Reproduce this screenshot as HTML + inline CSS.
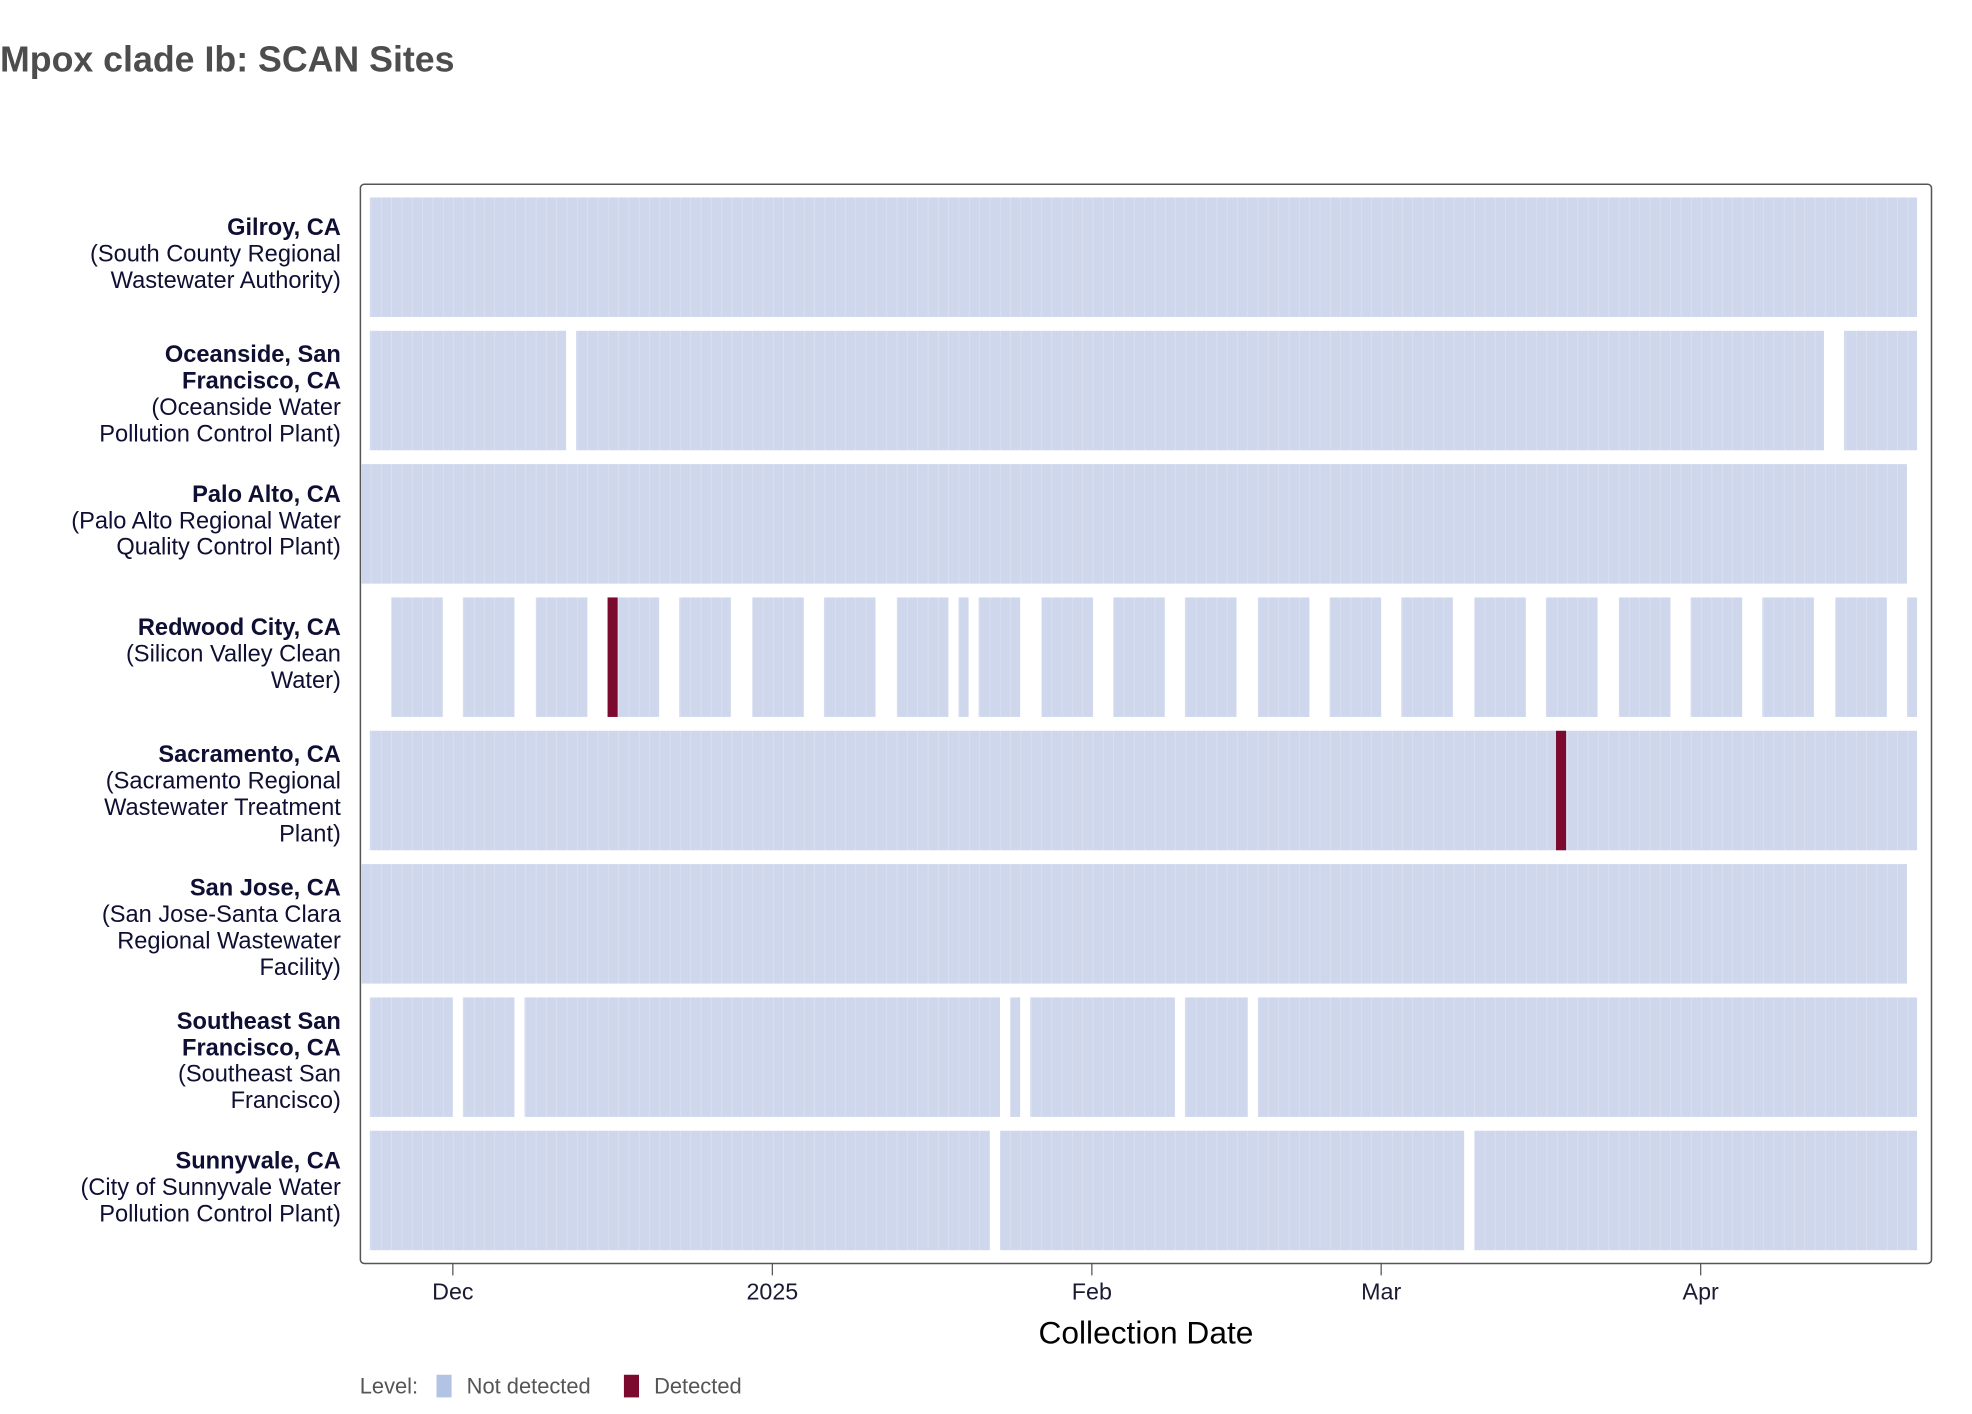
<!DOCTYPE html>
<html><head><meta charset="utf-8"><style>html,body{margin:0;padding:0;background:#fff}svg{display:block}</style></head>
<body>
<svg width="1972" height="1414" viewBox="0 0 1567.7 1124.2" preserveAspectRatio="none" xmlns="http://www.w3.org/2000/svg" font-family="Liberation Sans, Arial, sans-serif">
<defs>
<pattern id="p" x="287" y="0" width="8.2" height="10" patternUnits="userSpaceOnUse">
<rect width="8.2" height="10" fill="#cfd7ec"/><rect x="7.7" width="0.5" height="10" fill="#dfe4f3"/>
</pattern>
</defs>
<text x="0" y="57" font-size="28.4" font-weight="bold" fill="#4d4d4d">Mpox clade Ib: SCAN Sites</text>
<rect x="286.5" y="146.5" width="1249" height="858" rx="3" fill="#fff" stroke="#555" stroke-width="1.2"/>
<g fill="url(#p)">
<rect x="294" y="157" width="1230" height="95"/>
<rect x="294" y="263" width="156" height="95"/><rect x="458" y="263" width="992" height="95"/><rect x="1466" y="263" width="58" height="95"/>
<rect x="287" y="369" width="1229" height="95"/>
<rect x="311" y="475" width="41" height="95"/><rect x="368" y="475" width="41" height="95"/><rect x="426" y="475" width="41" height="95"/><rect x="483" y="475" width="41" height="95"/><rect x="540" y="475" width="41" height="95"/><rect x="598" y="475" width="41" height="95"/><rect x="655" y="475" width="41" height="95"/><rect x="713" y="475" width="41" height="95"/><rect x="762" y="475" width="8" height="95"/><rect x="778" y="475" width="33" height="95"/><rect x="828" y="475" width="41" height="95"/><rect x="885" y="475" width="41" height="95"/><rect x="942" y="475" width="41" height="95"/><rect x="1000" y="475" width="41" height="95"/><rect x="1057" y="475" width="41" height="95"/><rect x="1114" y="475" width="41" height="95"/><rect x="1172" y="475" width="41" height="95"/><rect x="1229" y="475" width="41" height="95"/><rect x="1287" y="475" width="41" height="95"/><rect x="1344" y="475" width="41" height="95"/><rect x="1401" y="475" width="41" height="95"/><rect x="1459" y="475" width="41" height="95"/><rect x="1516" y="475" width="8" height="95"/>
<rect x="294" y="581" width="1230" height="95"/>
<rect x="287" y="687" width="1229" height="95"/>
<rect x="294" y="793" width="66" height="95"/><rect x="368" y="793" width="41" height="95"/><rect x="417" y="793" width="378" height="95"/><rect x="803" y="793" width="8" height="95"/><rect x="819" y="793" width="115" height="95"/><rect x="942" y="793" width="50" height="95"/><rect x="1000" y="793" width="524" height="95"/>
<rect x="294" y="899" width="493" height="95"/><rect x="795" y="899" width="369" height="95"/><rect x="1172" y="899" width="352" height="95"/>
</g>
<rect x="483" y="475" width="8" height="95" fill="#7b0a2e"/>
<rect x="1237" y="581" width="8" height="95" fill="#7b0a2e"/>
<g stroke="#555" stroke-width="1"><line x1="360" y1="1004" x2="360" y2="1014"/><line x1="614" y1="1004" x2="614" y2="1014"/><line x1="868" y1="1004" x2="868" y2="1014"/><line x1="1098" y1="1004" x2="1098" y2="1014"/><line x1="1352" y1="1004" x2="1352" y2="1014"/></g>
<g font-size="18.5" fill="#1a1a33" text-anchor="middle"><text x="360" y="1033">Dec</text><text x="614" y="1033">2025</text><text x="868" y="1033">Feb</text><text x="1098" y="1033">Mar</text><text x="1352" y="1033">Apr</text></g>
<text x="911" y="1068" font-size="25.2" fill="#000" text-anchor="middle">Collection Date</text>
<g font-size="17.4" fill="#555"><text x="286" y="1108">Level:</text><text x="371" y="1108">Not detected</text><text x="520" y="1108">Detected</text></g>
<rect x="347" y="1093" width="12" height="18" fill="#b3c3e3"/><rect x="496" y="1093" width="12" height="18" fill="#7b0a2e"/>
<g font-size="18.8" fill="#0f0f33" text-anchor="end">
<text x="271" y="187"><tspan font-weight="bold">Gilroy, CA</tspan><tspan x="271" dy="21">(South County Regional</tspan><tspan x="271" dy="21">Wastewater Authority)</tspan></text>
<text x="271" y="288"><tspan font-weight="bold">Oceanside, San</tspan><tspan x="271" dy="21" font-weight="bold">Francisco, CA</tspan><tspan x="271" dy="21">(Oceanside Water</tspan><tspan x="271" dy="21">Pollution Control Plant)</tspan></text>
<text x="271" y="399"><tspan font-weight="bold">Palo Alto, CA</tspan><tspan x="271" dy="21">(Palo Alto Regional Water</tspan><tspan x="271" dy="21">Quality Control Plant)</tspan></text>
<text x="271" y="505"><tspan font-weight="bold">Redwood City, CA</tspan><tspan x="271" dy="21">(Silicon Valley Clean</tspan><tspan x="271" dy="21">Water)</tspan></text>
<text x="271" y="606"><tspan font-weight="bold">Sacramento, CA</tspan><tspan x="271" dy="21">(Sacramento Regional</tspan><tspan x="271" dy="21">Wastewater Treatment</tspan><tspan x="271" dy="21">Plant)</tspan></text>
<text x="271" y="712"><tspan font-weight="bold">San Jose, CA</tspan><tspan x="271" dy="21">(San Jose-Santa Clara</tspan><tspan x="271" dy="21">Regional Wastewater</tspan><tspan x="271" dy="21">Facility)</tspan></text>
<text x="271" y="818"><tspan font-weight="bold">Southeast San</tspan><tspan x="271" dy="21" font-weight="bold">Francisco, CA</tspan><tspan x="271" dy="21">(Southeast San</tspan><tspan x="271" dy="21">Francisco)</tspan></text>
<text x="271" y="929"><tspan font-weight="bold">Sunnyvale, CA</tspan><tspan x="271" dy="21">(City of Sunnyvale Water</tspan><tspan x="271" dy="21">Pollution Control Plant)</tspan></text>
</g>
</svg>
</body></html>
